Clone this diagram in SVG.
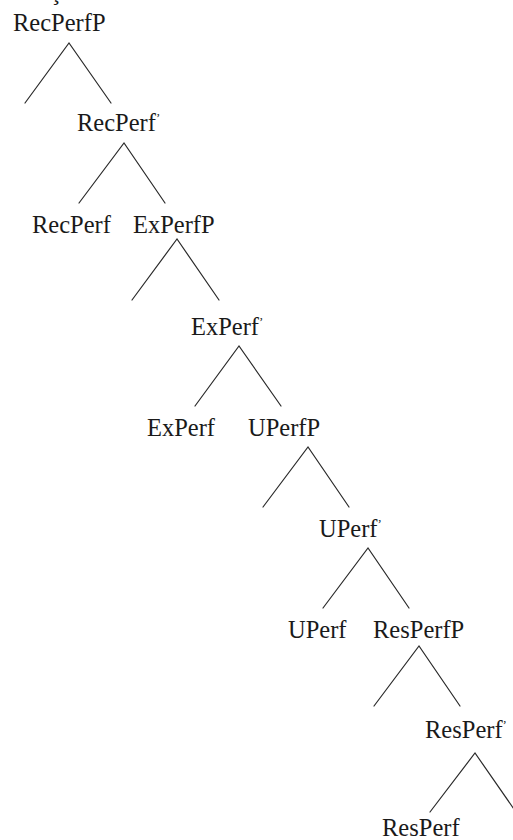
<svg xmlns="http://www.w3.org/2000/svg" width="513" height="840" viewBox="0 0 513 840">
  <style>
    text { font-family: "Liberation Serif", "Times New Roman", serif; font-size: 24.5px; fill: #1a1a1a; }
    .prime { font-size: 13px; }
    .edge { stroke: #2a2a2a; stroke-width: 1.2; fill: none; stroke-linecap: round; }
  </style>
  <rect width="513" height="840" fill="#ffffff"/>

  <!-- tail of a line of running text above the tree -->
  <text x="50" y="0">ç</text>

  <!-- tree branches -->
  <g id="edges">
    <path class="edge" d="M25,103 L69,43 L111,103"/>
    <path class="edge" d="M79,203 L124,143 L165,203"/>
    <path class="edge" d="M132,300 L177,239 L219,300"/>
    <path class="edge" d="M195,406 L239,346 L281,406"/>
    <path class="edge" d="M263,507 L308,447 L349,507"/>
    <path class="edge" d="M323,608 L368,548 L409,608"/>
    <path class="edge" d="M374,706 L419,646 L460,706"/>
    <path class="edge" d="M430,812 L475,753 L516,812"/>
  </g>

  <g id="RecPerfP"><text x="13" y="31">RecPerfP</text></g>
  <g id="RecPerf-bar"><text x="77" y="131">RecPerf<tspan class="prime" dy="-9">’</tspan></text></g>
  <g id="RecPerf"><text x="32" y="233">RecPerf</text></g>
  <g id="ExPerfP"><text x="133" y="233">ExPerfP</text></g>
  <g id="ExPerf-bar"><text x="191" y="335">ExPerf<tspan class="prime" dy="-9">’</tspan></text></g>
  <g id="ExPerf"><text x="147" y="436">ExPerf</text></g>
  <g id="UPerfP"><text x="248" y="436">UPerfP</text></g>
  <g id="UPerf-bar"><text x="319" y="537">UPerf<tspan class="prime" dy="-9">’</tspan></text></g>
  <g id="UPerf"><text x="288" y="638">UPerf</text></g>
  <g id="ResPerfP"><text x="373" y="638">ResPerfP</text></g>
  <g id="ResPerf-bar"><text x="425" y="738">ResPerf<tspan class="prime" dy="-9">’</tspan></text></g>
  <g id="ResPerf"><text x="382" y="836">ResPerf</text></g>
</svg>
